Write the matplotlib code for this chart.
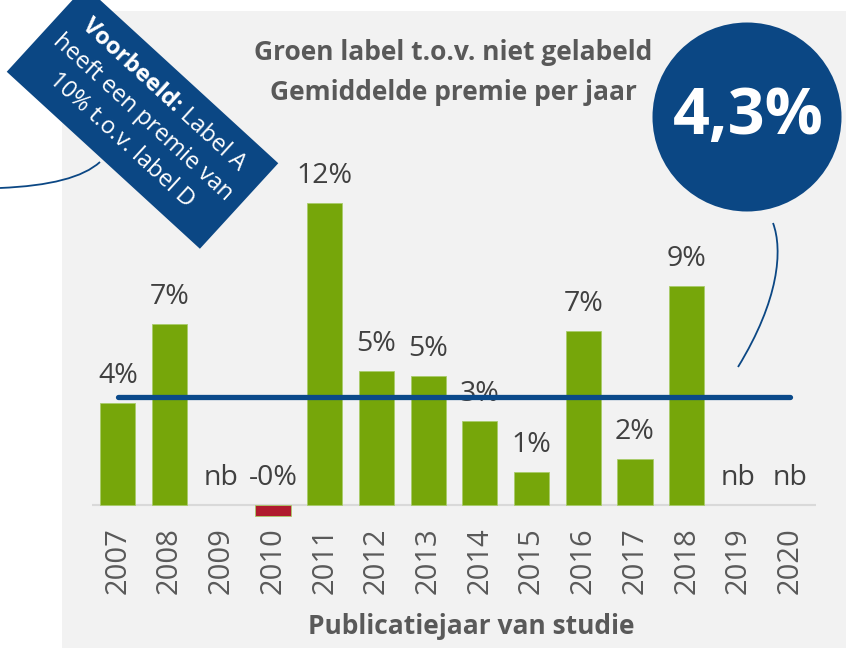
import numpy as np
import matplotlib as mpl
mpl.use('Agg')
from matplotlib import pyplot as plt
from matplotlib.patches import Rectangle, Circle, Polygon, PathPatch
from matplotlib.path import Path

plt.rcParams['font.family'] = ['Open Sans', 'DejaVu Sans']

# data
years = ['2007', '2008', '2009', '2010', '2011', '2012', '2013',
         '2014', '2015', '2016', '2017', '2018', '2019', '2020']
premie = [4.04, 7.17, np.nan, -0.45, 12.0, 5.33, 5.12,
          3.35, 1.30, 6.9, 1.81, 8.69, np.nan, np.nan]
gemiddelde = 4.3

title_lines = ['Groen label t.o.v. niet gelabeld', 'Gemiddelde premie per jaar']
xlabel = 'Publicatiejaar van studie'
# (vet deel, normaal deel) per regel
box_lines = [('Voorbeeld: ', 'Label A'), ('', 'heeft een premie van'),
             ('', '10% t.o.v. label D')]
circle_text = '4,3%'

GREEN = '#76a60a'
RED = '#b01b2e'
BLUE = '#0b4784'
GREY_TXT = '#595959'
LABEL_TXT = '#404040'

W, H = 857, 648
fig = plt.figure(figsize=(W / 100, H / 100), dpi=100)
fig.patch.set_facecolor('white')
renderer = fig.canvas.get_renderer()

def text_width(s, **kw):
    if not s:
        return 0.0
    t = fig.text(0, 0, s, **kw)
    w = t.get_window_extent(renderer).width
    t.remove()
    return w

# achtergrond-as in pixels (y naar beneden)
bg = fig.add_axes([0, 0, 1, 1], zorder=0)
bg.set_xlim(0, W)
bg.set_ylim(H, 0)
bg.axis('off')
bg.add_patch(Rectangle((62, 11), 784, 650, facecolor='#f2f2f2', edgecolor='none'))

# titel en as-label
bg.text(453, 53, title_lines[0], ha='center', va='center', fontsize=19,
        fontweight='bold', color=GREY_TXT)
bg.text(453, 92, title_lines[1], ha='center', va='center', fontsize=19,
        fontweight='bold', color=GREY_TXT)
bg.text(471, 627, xlabel, ha='center', va='center', fontsize=19,
        fontweight='bold', color=GREY_TXT)

# gedraaid voorbeeld-kader
cx, cy, bw, bh, ang = 142.5, 117.5, 262, 116, 42.5
a = np.deg2rad(ang)
u = np.array([np.cos(a), np.sin(a)])     # richting van de tekst
n = np.array([np.sin(a), -np.cos(a)])    # loodrecht, "omhoog"
c = np.array([cx, cy])
corners = [c - u * bw / 2 + n * bh / 2, c + u * bw / 2 + n * bh / 2,
           c + u * bw / 2 - n * bh / 2, c - u * bw / 2 - n * bh / 2]
bg.add_patch(Polygon(corners, closed=True, facecolor=BLUE, edgecolor='none'))
fs_box = 17
for i, (vet, gewoon) in enumerate(box_lines):
    wb = text_width(vet, fontsize=fs_box, fontweight='bold')
    wr = text_width(gewoon, fontsize=fs_box)
    start = c + n * 31 * (1 - i) - u * (wb + wr) / 2
    if vet:
        bg.text(start[0], start[1], vet, rotation=-ang, rotation_mode='anchor',
                ha='left', va='center', fontsize=fs_box, fontweight='bold',
                color='white')
    p = start + u * wb
    bg.text(p[0], p[1], gewoon, rotation=-ang, rotation_mode='anchor',
            ha='left', va='center', fontsize=fs_box, color='white')

# lijntje van kader naar links
path = Path([(100, 162), (75, 185), (0, 188)],
            [Path.MOVETO, Path.CURVE3, Path.CURVE3])
bg.add_patch(PathPatch(path, facecolor='none', edgecolor=BLUE, lw=1.3))

# cirkel met gemiddelde
bg.add_patch(Circle((747, 117), 94.5, facecolor=BLUE, edgecolor='none'))
bg.text(748, 117, circle_text, ha='center', va='center', fontsize=46.5,
        fontweight='bold', color='white')
path = Path([(773, 223), (783, 250), (779, 300), (738, 367)],
            [Path.MOVETO, Path.CURVE4, Path.CURVE4, Path.CURVE4])
bg.add_patch(PathPatch(path, facecolor='none', edgecolor=BLUE, lw=1.3))

# grafiek
ymin, ymax = -0.6, 13
ax = fig.add_axes([92 / W, 1 - 520.1 / H, 724 / W, 342.7 / H], zorder=1)
ax.patch.set_alpha(0)
x = np.arange(len(years))
vals = np.array(premie)
ok = ~np.isnan(vals)
colors = [GREEN if v >= 0 else RED for v in vals[ok]]
ax.bar(x[ok], vals[ok], width=0.68, color=colors, edgecolor='#a9cc6a',
       linewidth=0.6, zorder=2)
ax.axhline(0, color='#d9d9d9', lw=1.5, zorder=1)

for xi, v in zip(x, vals):
    if np.isnan(v):
        txt, yy = 'nb', 0
    else:
        txt, yy = '{:.0f}%'.format(v), max(v, 0)
    ax.annotate(txt, (xi, yy), xytext=(0, 20), textcoords='offset pixels',
                ha='center', va='baseline', fontsize=20.5, color=LABEL_TXT,
                zorder=3)

ax.plot([x[0], x[-1]], [gemiddelde, gemiddelde], color='#0b4a8a', lw=3.8,
        solid_capstyle='round', zorder=4)

ax.set_xlim(-0.5, len(years) - 0.5)
ax.set_ylim(ymin, ymax)
ax.set_xticks(x)
ax.set_xticklabels(years, rotation=90, fontsize=21, color=GREY_TXT)
ax.tick_params(axis='x', length=0, pad=5)
ax.set_yticks([])
for s in ax.spines.values():
    s.set_visible(False)

fig.savefig('out.png', dpi=100)
